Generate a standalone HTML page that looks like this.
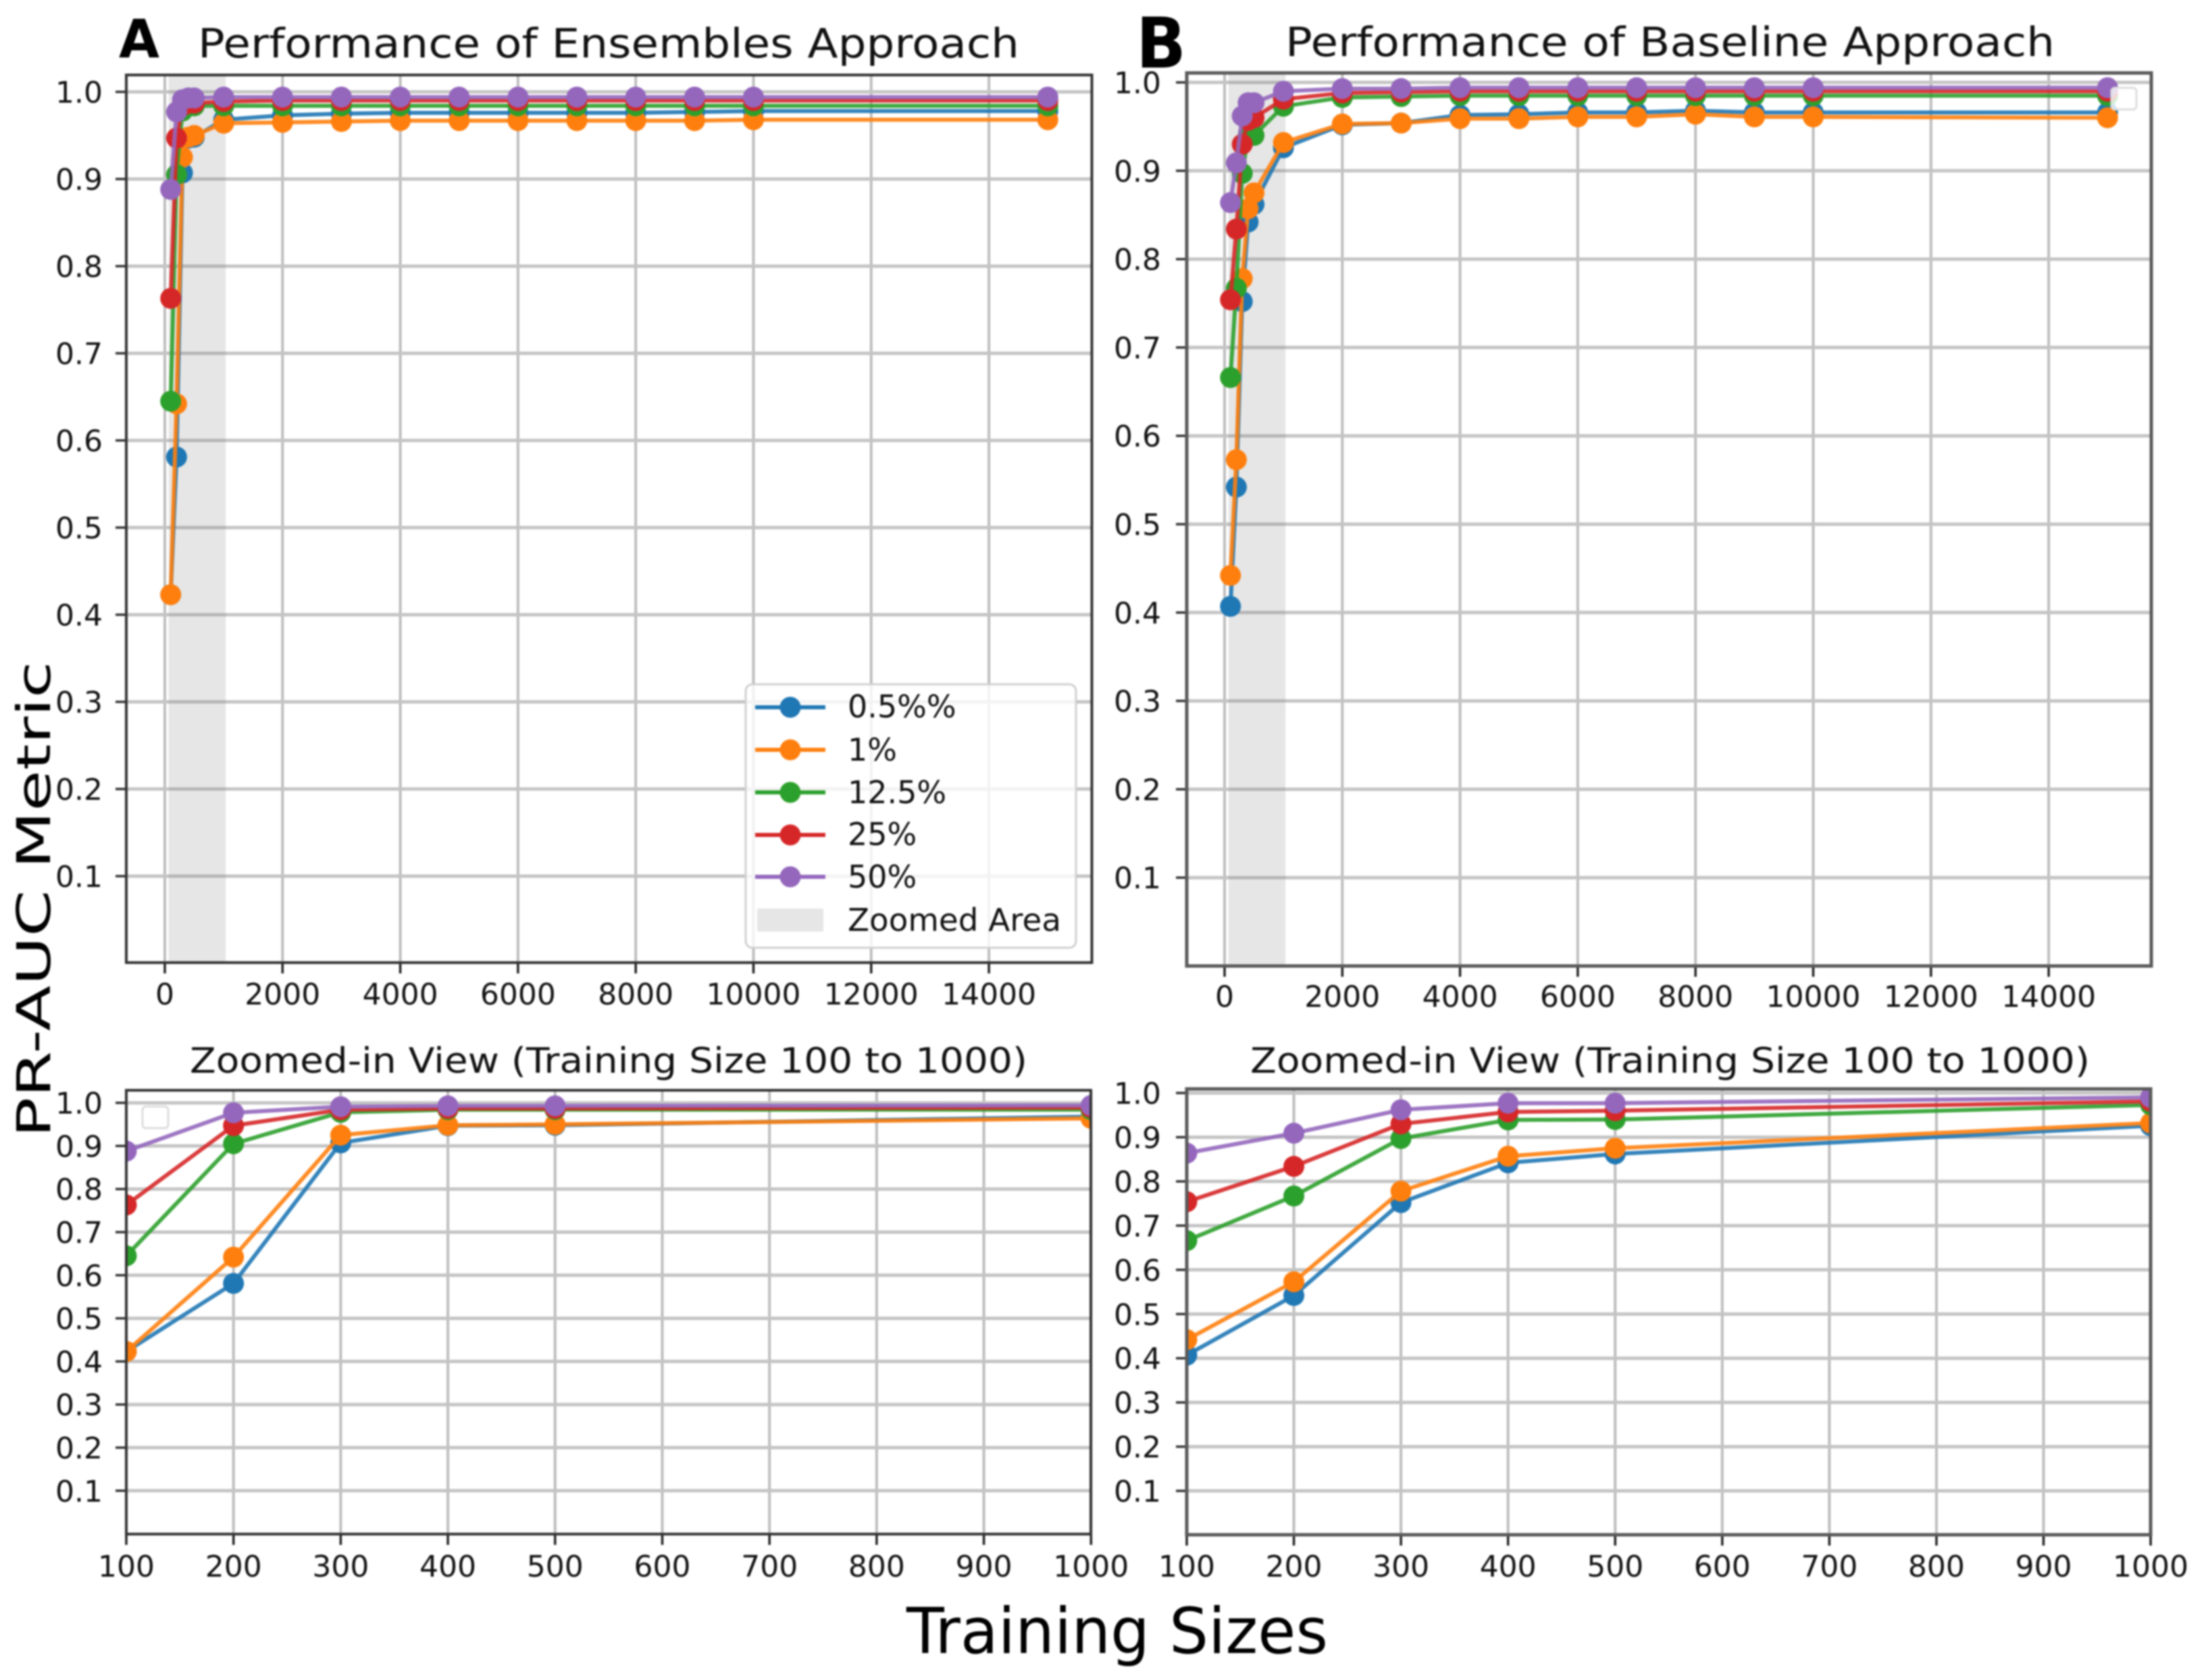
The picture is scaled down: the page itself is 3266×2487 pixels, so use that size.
<!DOCTYPE html>
<html lang="en">
<head>
<meta charset="utf-8">
<title>PR-AUC Metric vs Training Sizes</title>
<style>
html,body{margin:0;padding:0;background:#fff;width:3266px;height:2487px;overflow:hidden}
svg{display:block;filter:blur(1.4px)}
text{font-family:"DejaVu Sans","Liberation Sans",sans-serif;fill:#111}
</style>
</head>
<body>
<svg id="figure" xmlns="http://www.w3.org/2000/svg" width="3266" height="2487" viewBox="0 0 3266 2487">
<rect x="0" y="0" width="3266" height="2487" fill="#fff"/>
<defs>
<clipPath id="clip-a-main"><rect x="187" y="111" width="1430" height="1314"/></clipPath>
<clipPath id="clip-b-main"><rect x="1757" y="107" width="1428" height="1323"/></clipPath>
<clipPath id="clip-a-zoom"><rect x="187" y="1614" width="1428" height="657"/></clipPath>
<clipPath id="clip-b-zoom"><rect x="1757" y="1612" width="1427" height="660"/></clipPath>
</defs>
<g id="plot-layer"></g>
<g id="legend-a">
<rect x="1104" y="1013" width="489" height="390" rx="10" fill="#fff" fill-opacity="0.8" stroke="#d0d0d0" stroke-width="3"/>
<g><line x1="1118" x2="1222" y1="1047" y2="1047" stroke="#1f77b4" stroke-width="6"/><circle cx="1170" cy="1047" r="15.5" fill="#1f77b4"/><text x="1255" y="1062" font-size="46">0.5%%</text></g>
<g><line x1="1118" x2="1222" y1="1110" y2="1110" stroke="#ff7f0e" stroke-width="6"/><circle cx="1170" cy="1110" r="15.5" fill="#ff7f0e"/><text x="1255" y="1126" font-size="46">1%</text></g>
<g><line x1="1118" x2="1222" y1="1173" y2="1173" stroke="#2ca02c" stroke-width="6"/><circle cx="1170" cy="1173" r="15.5" fill="#2ca02c"/><text x="1255" y="1189" font-size="46">12.5%</text></g>
<g><line x1="1118" x2="1222" y1="1236" y2="1236" stroke="#d62728" stroke-width="6"/><circle cx="1170" cy="1236" r="15.5" fill="#d62728"/><text x="1255" y="1251" font-size="46">25%</text></g>
<g><line x1="1118" x2="1222" y1="1298" y2="1298" stroke="#9467bd" stroke-width="6"/><circle cx="1170" cy="1298" r="15.5" fill="#9467bd"/><text x="1255" y="1314" font-size="46">50%</text></g>
<g><rect x="1121" y="1345" width="98" height="34" fill="#e6e6e6"/><text x="1255" y="1378" font-size="46" textLength="316" lengthAdjust="spacingAndGlyphs">Zoomed Area</text></g>
</g>
<rect x="211" y="1638" width="38" height="32" rx="5" fill="#fff" fill-opacity="0.8" stroke="#ddd" stroke-width="3"/>
<rect x="3126" y="130" width="37" height="32" rx="5" fill="#fff" fill-opacity="0.8" stroke="#ddd" stroke-width="3"/>
<text x="176" y="85" font-size="78" font-weight="bold" style="fill:#000" textLength="60" lengthAdjust="spacingAndGlyphs">A</text>
<text x="1682" y="100" font-size="103" font-weight="bold" style="fill:#000" textLength="74" lengthAdjust="spacingAndGlyphs">B</text>
<text x="293" y="85" font-size="60" textLength="1216" lengthAdjust="spacingAndGlyphs">Performance of Ensembles Approach</text>
<text x="1903" y="83" font-size="60" textLength="1139" lengthAdjust="spacingAndGlyphs">Performance of Baseline Approach</text>
<text x="281" y="1588" font-size="52" textLength="1240" lengthAdjust="spacingAndGlyphs">Zoomed-in View (Training Size 100 to 1000)</text>
<text x="1851" y="1588" font-size="52" textLength="1243" lengthAdjust="spacingAndGlyphs">Zoomed-in View (Training Size 100 to 1000)</text>
<text x="1342" y="2447" font-size="94" style="fill:#000" textLength="624" lengthAdjust="spacingAndGlyphs">Training Sizes</text>
<text transform="translate(74 1684) rotate(-90)" font-size="69" style="fill:#000" textLength="705" lengthAdjust="spacingAndGlyphs">PR-AUC Metric</text>
</svg>
<script>
const trainingSizes = [100,200,300,400,500,1000,2000,3000,4000,5000,6000,7000,8000,9000,10000,15000];
const seriesLabels = ['0.5%','1%','12.5%','25%','50%'];
const ensemble05 = [0.423,0.581,0.907,0.947,0.948,0.968,0.973,0.975,0.976,0.976,0.976,0.976,0.976,0.977,0.978,0.978];
const ensemble1 = [0.423,0.642,0.925,0.948,0.950,0.964,0.965,0.966,0.967,0.967,0.967,0.967,0.967,0.967,0.968,0.968];
const ensemble125 = [0.645,0.905,0.978,0.984,0.984,0.984,0.984,0.984,0.984,0.984,0.984,0.984,0.984,0.984,0.984,0.984];
const ensemble25 = [0.763,0.947,0.984,0.987,0.987,0.989,0.990,0.990,0.990,0.990,0.990,0.990,0.990,0.990,0.990,0.990];
const ensemble50 = [0.888,0.977,0.991,0.993,0.993,0.994,0.994,0.994,0.994,0.994,0.994,0.994,0.994,0.994,0.994,0.994];
const baseline05 = [0.407,0.542,0.752,0.842,0.862,0.926,0.952,0.954,0.963,0.964,0.966,0.966,0.968,0.966,0.966,0.966];
const baseline1 = [0.442,0.573,0.778,0.857,0.875,0.932,0.953,0.954,0.959,0.959,0.961,0.961,0.964,0.961,0.961,0.960];
const baseline125 = [0.666,0.767,0.897,0.939,0.940,0.973,0.983,0.984,0.985,0.985,0.985,0.985,0.985,0.985,0.985,0.985];
const baseline25 = [0.754,0.834,0.930,0.957,0.960,0.981,0.988,0.989,0.990,0.990,0.990,0.990,0.990,0.990,0.990,0.990];
const baseline50 = [0.864,0.909,0.962,0.977,0.977,0.990,0.993,0.993,0.994,0.994,0.994,0.994,0.994,0.994,0.994,0.994];
const yTickValues = [0.1,0.2,0.3,0.4,0.5,0.6,0.7,0.8,0.9,1.0];
const xTicksMain = [0,2000,4000,6000,8000,10000,12000,14000];
const xTicksZoom = [100,200,300,400,500,600,700,800,900,1000];
const seriesColors = ['#1f77b4','#ff7f0e','#2ca02c','#d62728','#9467bd'];
const zoomRange = [100,1000];

const NS = 'http://www.w3.org/2000/svg';
const layer = document.getElementById('plot-layer');
function mk(tag, attrs, parent) {
  const el = document.createElementNS(NS, tag);
  for (const k in attrs) el.setAttribute(k, attrs[k]);
  parent.appendChild(el);
  return el;
}

function drawPanel(cfg) {
  const group = mk('g', {}, layer);
  
  
  const xs = cfg.xs, ys = cfg.ys;

  cfg.xTicks.forEach(function (t) {
    const gl = mk('line', {x1:xs(t),x2:xs(t),y1:cfg.top,y2:cfg.bottom,stroke:'#bdbdbd','stroke-width':4}, group);
    
    
  });
  yTickValues.forEach(function (t) {
    const gl = mk('line', {x1:cfg.left,x2:cfg.right,y1:ys(t),y2:ys(t),stroke:'#c4c4c4','stroke-width':5}, group);
    
    
  });

  if (cfg.shade) {
    const sh = mk('rect', {x:xs(zoomRange[0])-3,y:cfg.top,width:xs(zoomRange[1])-xs(zoomRange[0])+6,height:cfg.bottom-cfg.top,fill:'#808080','fill-opacity':0.2}, group);
    
    
  }

  const plot = mk('g', {'clip-path':'url(#'+cfg.clip+')'}, group);
  
  
  cfg.series.forEach(function (vals, i) {
    const idx = [];
    trainingSizes.forEach(function (s, j) { if (s <= cfg.maxSize) idx.push(j); });
    const pts = idx.map(function (j) { return xs(trainingSizes[j]).toFixed(1)+','+ys(vals[j]).toFixed(1); }).join(' ');
    const ln = mk('polyline', {points:pts,fill:'none',stroke:seriesColors[i],'stroke-width':6,'stroke-opacity':0.9,'stroke-linejoin':'round'}, plot);
    
    
    idx.forEach(function (j) {
      const dot = mk('circle', {cx:xs(trainingSizes[j]),cy:ys(vals[j]),r:15.5,fill:seriesColors[i]}, plot);
      
      
    });
  });

  cfg.xTicks.forEach(function (t) {
    const tk = mk('line', {x1:xs(t),x2:xs(t),y1:cfg.bottom,y2:cfg.bottom+16,stroke:'#222','stroke-width':3.5}, group);
    
    
    const lb = mk('text', {x:xs(t),y:cfg.xLabelY,'font-size':44,'text-anchor':'middle'}, group);
    lb.textContent = String(t);
    
    
  });
  yTickValues.forEach(function (t) {
    const tk = mk('line', {x1:cfg.left-16,x2:cfg.left,y1:ys(t),y2:ys(t),stroke:'#333','stroke-width':3.5}, group);
    
    
    const lb = mk('text', {x:cfg.yLabelX,y:ys(t)+16,'font-size':44,'text-anchor':'end'}, group);
    lb.textContent = t.toFixed(1);
    
    
  });

  const frame = mk('rect', {x:cfg.left,y:cfg.top,width:cfg.right-cfg.left,height:cfg.bottom-cfg.top,fill:'none',stroke:cfg.spine,'stroke-width':cfg.spineWidth}, group);
  
  
}

const ensembleSeries = [ensemble05, ensemble1, ensemble125, ensemble25, ensemble50];
const baselineSeries = [baseline05, baseline1, baseline125, baseline25, baseline50];

drawPanel({name:'panel-a-main',left:187,right:1616.5,top:111,bottom:1425,clip:'clip-a-main',series:ensembleSeries,maxSize:15000,shade:true,
  xTicks:xTicksMain,xLabelY:1487,yLabelX:152,spine:'#333',spineWidth:4,
  xs:function(v){return 244+v*0.08715;},ys:function(v){return 136+(1-v)*1290;}});
drawPanel({name:'panel-b-main',left:1757,right:3185,top:108,bottom:1430,clip:'clip-b-main',series:baselineSeries,maxSize:15000,shade:true,
  xTicks:xTicksMain,xLabelY:1490.5,yLabelX:1719,spine:'#5a5a5a',spineWidth:5,
  xs:function(v){return 1813+v*0.08715;},ys:function(v){return 122+(1-v)*1308;}});
drawPanel({name:'panel-a-zoom',left:187,right:1615,top:1614,bottom:2271,clip:'clip-a-zoom',series:ensembleSeries,maxSize:1000,shade:false,
  xTicks:xTicksZoom,xLabelY:2334,yLabelX:152,spine:'#333',spineWidth:4,
  xs:function(v){return 187+(v-100)*1.587;},ys:function(v){return 1632.6+(1-v)*638;}});
drawPanel({name:'panel-b-zoom',left:1757,right:3184,top:1612,bottom:2272,clip:'clip-b-zoom',series:baselineSeries,maxSize:1000,shade:false,
  xTicks:xTicksZoom,xLabelY:2334,yLabelX:1719,spine:'#5a5a5a',spineWidth:5,
  xs:function(v){return 1757+(v-100)*1.5856;},ys:function(v){return 1618+(1-v)*654.5;}});
</script>
</body>
</html>
